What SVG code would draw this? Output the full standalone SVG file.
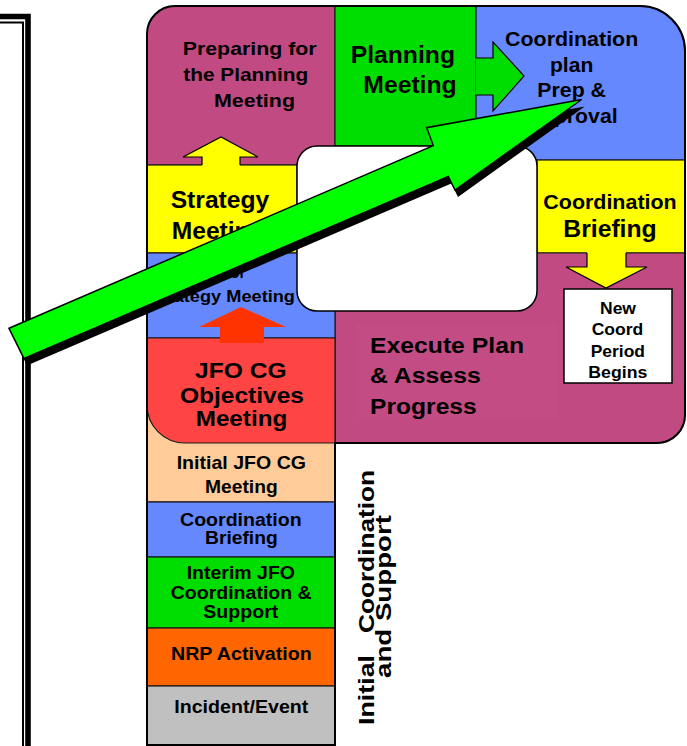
<svg xmlns="http://www.w3.org/2000/svg" width="687" height="746" viewBox="0 0 687 746">
  <style>
    .blk{stroke:#1a1a1a;stroke-width:1.2}
    .mag{fill:#C24A83}
    .grn{fill:#00DD00}
    .blu{fill:#6688FF}
    .yel{fill:#FFFF00}
    .t{font-family:"Liberation Sans",Arial,Helvetica,sans-serif;font-weight:bold;fill:#000}
    .edge{fill:none;stroke:#000;stroke-width:1.2;stroke-linejoin:miter}
  </style>

  <rect width="687" height="746" fill="#ffffff"/>

  <!-- double page frame on the left -->
  <g id="page-frame" fill="none" stroke="#000">
    <polyline points="0,16.5 28,16.5 28,746" stroke-width="5.6"/>
    <polyline points="0,22.4 23,22.4 23,746" stroke-width="2"/>
  </g>

  <!-- cycle blocks -->
  <g id="prep-planning">
    <path class="blk mag" d="M147,165 V34 A28,28 0 0 1 175,6 H335 V165 Z"/>
    <text class="t" font-size="19" x="182.7" y="55" textLength="134" lengthAdjust="spacingAndGlyphs">Preparing for</text>
    <text class="t" font-size="19" x="183.3" y="81" textLength="125" lengthAdjust="spacingAndGlyphs">the Planning</text>
    <text class="t" font-size="19" x="214" y="107" textLength="81" lengthAdjust="spacingAndGlyphs">Meeting</text>
  </g>

  <g id="planning-meeting">
    <path class="blk grn" d="M335,6 H476 V146 H335 Z"/>
    <text class="t" font-size="24.5" x="350.7" y="63.3" textLength="104.3" lengthAdjust="spacingAndGlyphs">Planning</text>
    <text class="t" font-size="24.5" x="363.3" y="93.3" textLength="93.4" lengthAdjust="spacingAndGlyphs">Meeting</text>
  </g>

  <g id="coord-plan">
    <path class="blk blu" d="M476,6 H640 A45,45 0 0 1 685,51 V160 H476 Z"/>
    <text class="t" font-size="20.5" x="505" y="45.7" textLength="133.3" lengthAdjust="spacingAndGlyphs">Coordination</text>
    <text class="t" font-size="20.5" x="550" y="71.7" textLength="43.3" lengthAdjust="spacingAndGlyphs">plan</text>
    <text class="t" font-size="20.5" x="537.3" y="96.7" textLength="68.7" lengthAdjust="spacingAndGlyphs">Prep &amp;</text>
    <text class="t" font-size="20.5" x="525.5" y="123.3" textLength="92.2" lengthAdjust="spacingAndGlyphs">Approval</text>
  </g>

  <g id="coord-briefing">
    <rect class="blk yel" x="537" y="160" width="148" height="93"/>
    <text class="t" font-size="20.5" x="543.3" y="209.3" textLength="133.4" lengthAdjust="spacingAndGlyphs">Coordination</text>
    <text class="t" font-size="24" x="563.3" y="236.7" textLength="93.4" lengthAdjust="spacingAndGlyphs">Briefing</text>
  </g>

  <g id="execute-plan">
    <path class="blk mag" d="M335,253 H685 V415 A28,28 0 0 1 657,443 H335 Z"/>
    <rect x="356" y="323" width="202" height="95" fill="#C44C85"/>
    <text class="t" font-size="22" x="370" y="353.3" textLength="154" lengthAdjust="spacingAndGlyphs">Execute Plan</text>
    <text class="t" font-size="22" x="370" y="383.3" textLength="110.7" lengthAdjust="spacingAndGlyphs">&amp; Assess</text>
    <text class="t" font-size="22" x="370" y="414" textLength="106.7" lengthAdjust="spacingAndGlyphs">Progress</text>
  </g>

  <g id="strategy-meeting">
    <rect class="blk yel" x="147" y="165" width="150" height="88"/>
    <text class="t" font-size="23" x="170.7" y="208.3" textLength="98.6" lengthAdjust="spacingAndGlyphs">Strategy</text>
    <text class="t" font-size="23" x="171.7" y="239.3" textLength="93" lengthAdjust="spacingAndGlyphs">Meeting</text>
  </g>

  <g id="prep-strategy">
    <rect class="blk blu" x="147" y="253" width="188" height="85"/>
    <text class="t" font-size="17" x="150.5" y="278.3" textLength="95" lengthAdjust="spacingAndGlyphs">Preparing for</text>
    <text class="t" font-size="17" x="148.4" y="301.7" textLength="146.6" lengthAdjust="spacingAndGlyphs">Strategy Meeting</text>
  </g>

  <g id="initial-meeting">
    <rect class="blk" x="147" y="400" width="188" height="102" fill="#FFCC99"/>
    <text class="t" font-size="19" x="176.7" y="469.3" textLength="129.3" lengthAdjust="spacingAndGlyphs">Initial JFO CG</text>
    <text class="t" font-size="19" x="205" y="492.7" textLength="72.7" lengthAdjust="spacingAndGlyphs">Meeting</text>
  </g>

  <g id="objectives-meeting">
    <path class="blk" fill="#FF4444" d="M147,338 H335 V443 H185 A38,38 0 0 1 147,405 Z"/>
    <text class="t" font-size="22.5" x="195" y="378.3" textLength="91.7" lengthAdjust="spacingAndGlyphs">JFO CG</text>
    <text class="t" font-size="22.5" x="180" y="402.7" textLength="124" lengthAdjust="spacingAndGlyphs">Objectives</text>
    <text class="t" font-size="22.5" x="195.7" y="425.5" textLength="91.6" lengthAdjust="spacingAndGlyphs">Meeting</text>
  </g>

  <g id="initial-briefing">
    <rect class="blk blu" x="147" y="502" width="188" height="55"/>
    <text class="t" font-size="17.5" x="180" y="525.5" textLength="121.7" lengthAdjust="spacingAndGlyphs">Coordination</text>
    <text class="t" font-size="17.5" x="205" y="544" textLength="72.7" lengthAdjust="spacingAndGlyphs">Briefing</text>
  </g>

  <g id="interim-support">
    <rect class="blk grn" x="147" y="557" width="188" height="71"/>
    <text class="t" font-size="18" x="186.7" y="579.3" textLength="108.3" lengthAdjust="spacingAndGlyphs">Interim JFO</text>
    <text class="t" font-size="18" x="170.7" y="599" textLength="141" lengthAdjust="spacingAndGlyphs">Coordination &amp;</text>
    <text class="t" font-size="18" x="203.3" y="617.5" textLength="75" lengthAdjust="spacingAndGlyphs">Support</text>
  </g>

  <g id="nrp-activation">
    <rect class="blk" x="147" y="628" width="188" height="58" fill="#FF6600"/>
    <text class="t" font-size="19" x="171" y="660" textLength="140.7" lengthAdjust="spacingAndGlyphs">NRP Activation</text>
  </g>

  <g id="incident">
    <rect class="blk" x="147" y="686" width="188" height="59" fill="#C0C0C0"/>
    <text class="t" font-size="19" x="174.3" y="712.7" textLength="134" lengthAdjust="spacingAndGlyphs">Incident/Event</text>
  </g>

  <!-- outer border of the cycle and its open centre -->
  <g id="cycle-outline">
    <path d="M147,745 V34 A28,28 0 0 1 175,6 H640 A45,45 0 0 1 685,51 V415 A28,28 0 0 1 657,443 H335 V745 Z" fill="none" stroke="#000" stroke-width="2"/>
    <rect x="297" y="146" width="240" height="165" rx="20" ry="20" fill="#ffffff" stroke="#000" stroke-width="1.5"/>
  </g>

  <g id="new-period">
    <rect x="564" y="289" width="108" height="94" fill="#ffffff" stroke="#000" stroke-width="1.5"/>
    <text class="t" font-size="16.5" x="600" y="314" textLength="36" lengthAdjust="spacingAndGlyphs">New</text>
    <text class="t" font-size="16.5" x="591.7" y="335" textLength="51.6" lengthAdjust="spacingAndGlyphs">Coord</text>
    <text class="t" font-size="16.5" x="590.7" y="356.7" textLength="54.3" lengthAdjust="spacingAndGlyphs">Period</text>
    <text class="t" font-size="16.5" x="588.3" y="377.7" textLength="59" lengthAdjust="spacingAndGlyphs">Begins</text>
  </g>

  <g id="phase-label">
    <text class="t" font-size="21.5" transform="translate(373.5,725) rotate(-90)" textLength="70" lengthAdjust="spacingAndGlyphs">Initial</text>
    <text class="t" font-size="21.5" transform="translate(373.5,633) rotate(-90)" textLength="163" lengthAdjust="spacingAndGlyphs">Coordination</text>
    <text class="t" font-size="21.5" transform="translate(391,678) rotate(-90)" textLength="163" lengthAdjust="spacingAndGlyphs">and Support</text>
  </g>

  <!-- block arrows between stages -->
  <g id="connectors">
    <!-- planning meeting -> plan prep -->
    <polygon class="grn" points="475.5,58 493,58 493,42 524,76 493,111 493,95 475.5,95"/>
    <polyline class="edge" points="475.5,58 493,58 493,42 524,76 493,111 493,95 475.5,95"/>
    <!-- strategy meeting -> preparing for planning -->
    <polygon class="yel" points="202,166 202,157 183,157 221,137 258,157 240,157 240,166"/>
    <polyline class="edge" points="202,165 202,157 183,157 221,137 258,157 240,157 240,165"/>
    <!-- objectives meeting -> preparing for strategy -->
    <polygon fill="#FF3300" points="220,343 220,327 199,327 241,307 286,327 264,327 264,343"/>
    <!-- briefing -> new period -->
    <polygon class="yel" points="587,252 626,252 626,267 647,267 606,288 566,267 587,267"/>
    <polyline class="edge" points="587,253 587,267 566,267 606,288 647,267 626,267 626,253"/>
    <!-- large progress arrow with drop shadow -->
    <polygon fill="#000" transform="translate(3,7)" points="9,328.3 433.3,145.6 426.7,127.7 581.7,99.5 455,190 448.3,176.5 24,358.5"/>
    <polygon fill="#00FF00" stroke="#000" stroke-width="1.5" stroke-linejoin="miter" points="9,328.3 433.3,145.6 426.7,127.7 581.7,99.5 455,190 448.3,176.5 24,358.5"/>
  </g>
</svg>
